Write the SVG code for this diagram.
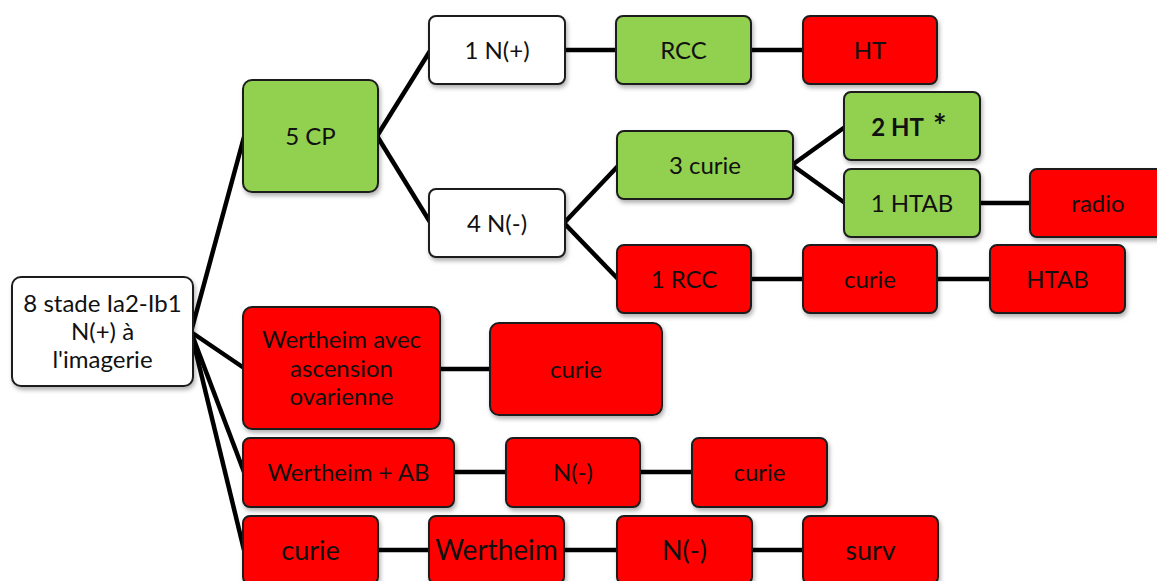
<svg xmlns="http://www.w3.org/2000/svg" width="1157" height="581" viewBox="0 0 1157 581">
<style>
  .n rect { stroke: #1e1e1e; stroke-width: 2; filter: url(#sh); }
  .g rect { fill: #92D050; }
  .r rect { fill: #FF0000; }
  .w rect { fill: #FFFFFF; }
  text { font-family: Lato, "Liberation Sans", sans-serif; font-size: 24px; fill: #111; text-anchor: middle; }
  .big { font-size: 27px; }
  .bigger { font-size: 28px; }
  .b { font-weight: bold; }
  #connectors line { stroke: #000; stroke-width: 4.5; }
</style>
<defs>
  <filter id="sh" x="-10%" y="-10%" width="130%" height="140%">
    <feDropShadow dx="1.5" dy="3" stdDeviation="2" flood-color="#000" flood-opacity="0.3"/>
  </filter>
</defs>
<rect width="1157" height="581" fill="#fff"/>
<g id="connectors">
  <line x1="191" y1="332" x2="244" y2="137"/>
  <line x1="191" y1="332" x2="244" y2="368"/>
  <line x1="191" y1="332" x2="244" y2="472"/>
  <line x1="191" y1="332" x2="244" y2="550"/>
  <line x1="377" y1="136" x2="430" y2="51"/>
  <line x1="377" y1="136" x2="430" y2="222"/>
  <line x1="564" y1="50" x2="617" y2="50"/>
  <line x1="750" y1="50" x2="804" y2="50"/>
  <line x1="564" y1="223" x2="618" y2="166"/>
  <line x1="564" y1="223" x2="618" y2="279"/>
  <line x1="792" y1="165" x2="845" y2="127"/>
  <line x1="792" y1="165" x2="845" y2="203"/>
  <line x1="979" y1="203" x2="1031" y2="203"/>
  <line x1="750" y1="279" x2="804" y2="279"/>
  <line x1="936" y1="279" x2="991" y2="279"/>
  <line x1="439" y1="369" x2="491" y2="369"/>
  <line x1="453" y1="472" x2="507" y2="472"/>
  <line x1="639" y1="472" x2="693" y2="472"/>
  <line x1="377" y1="550" x2="430" y2="550"/>
  <line x1="563" y1="550" x2="618" y2="550"/>
  <line x1="751" y1="550" x2="804" y2="550"/>
</g>
<g id="n_root" class="n w">
  <rect x="12" y="277" width="181" height="109" rx="9"/>
  <text x="102.5" y="312">8 stade Ia2-Ib1</text>
  <text x="102.5" y="340">N(+) à</text>
  <text x="102.5" y="368">l'imagerie</text>
</g>
<g id="n_5cp" class="n g">
  <rect x="243" y="80" width="135" height="112" rx="9"/>
  <text x="310.5" y="144.5">5 CP</text>
</g>
<g id="n_1np" class="n w">
  <rect x="429" y="16" width="136" height="68" rx="7"/>
  <text x="497" y="58.5">1 N(+)</text>
</g>
<g id="n_4nm" class="n w">
  <rect x="429" y="189" width="136" height="68" rx="7"/>
  <text x="497" y="231.5">4 N(-)</text>
</g>
<g id="n_rcc" class="n g">
  <rect x="616" y="16" width="135" height="68" rx="7"/>
  <text x="683.5" y="58.5">RCC</text>
</g>
<g id="n_ht" class="n r">
  <rect x="803" y="16" width="134" height="68" rx="7"/>
  <text x="870" y="58.5">HT</text>
</g>
<g id="n_3curie" class="n g">
  <rect x="617" y="131" width="176" height="68" rx="7"/>
  <text x="705" y="173.5">3 curie</text>
</g>
<g id="n_2ht" class="n g">
  <rect x="844" y="92" width="136" height="68" rx="7"/>
  <text x="909" y="136" class="b">2 HT<tspan dx="9" dy="2" font-size="32">*</tspan></text>
</g>
<g id="n_1htab" class="n g">
  <rect x="844" y="169" width="136" height="68" rx="7"/>
  <text x="912" y="211.5">1 HTAB</text>
</g>
<g id="n_radio" class="n r">
  <rect x="1030" y="169" width="136" height="68" rx="7"/>
  <text x="1098" y="211.5">radio</text>
</g>
<g id="n_1rcc" class="n r">
  <rect x="617" y="245" width="134" height="68" rx="7"/>
  <text x="684" y="287.5">1 RCC</text>
</g>
<g id="n_curie1" class="n r">
  <rect x="803" y="245" width="134" height="68" rx="7"/>
  <text x="870" y="287.5">curie</text>
</g>
<g id="n_htab" class="n r">
  <rect x="990" y="245" width="135" height="68" rx="7"/>
  <text x="1057.5" y="287.5">HTAB</text>
</g>
<g id="n_wav" class="n r">
  <rect x="243" y="307" width="197" height="122" rx="9"/>
  <text x="341.5" y="348">Wertheim avec</text>
  <text x="341.5" y="376.5">ascension</text>
  <text x="341.5" y="405">ovarienne</text>
</g>
<g id="n_curie2" class="n r">
  <rect x="490" y="323" width="172" height="92" rx="9"/>
  <text x="576" y="377.5">curie</text>
</g>
<g id="n_wab" class="n r">
  <rect x="243" y="438" width="211" height="69" rx="7"/>
  <text x="348.5" y="481">Wertheim + AB</text>
</g>
<g id="n_nm2" class="n r">
  <rect x="506" y="438" width="134" height="69" rx="7"/>
  <text x="573" y="481">N(-)</text>
</g>
<g id="n_curie3" class="n r">
  <rect x="692" y="438" width="135" height="69" rx="7"/>
  <text x="759.5" y="481">curie</text>
</g>
<g id="n_curie4" class="n r">
  <rect x="243" y="516" width="135" height="68" rx="7"/>
  <text x="310.5" y="559.5" class="big">curie</text>
</g>
<g id="n_wert" class="n r">
  <rect x="429" y="516" width="135" height="68" rx="7"/>
  <text x="496.5" y="560" class="bigger">Wertheim</text>
</g>
<g id="n_nm3" class="n r">
  <rect x="617" y="516" width="135" height="68" rx="7"/>
  <text x="684.5" y="559.5" class="big">N(-)</text>
</g>
<g id="n_surv" class="n r">
  <rect x="803" y="516" width="135" height="68" rx="7"/>
  <text x="870.5" y="559.5" class="big">surv</text>
</g>
</svg>
